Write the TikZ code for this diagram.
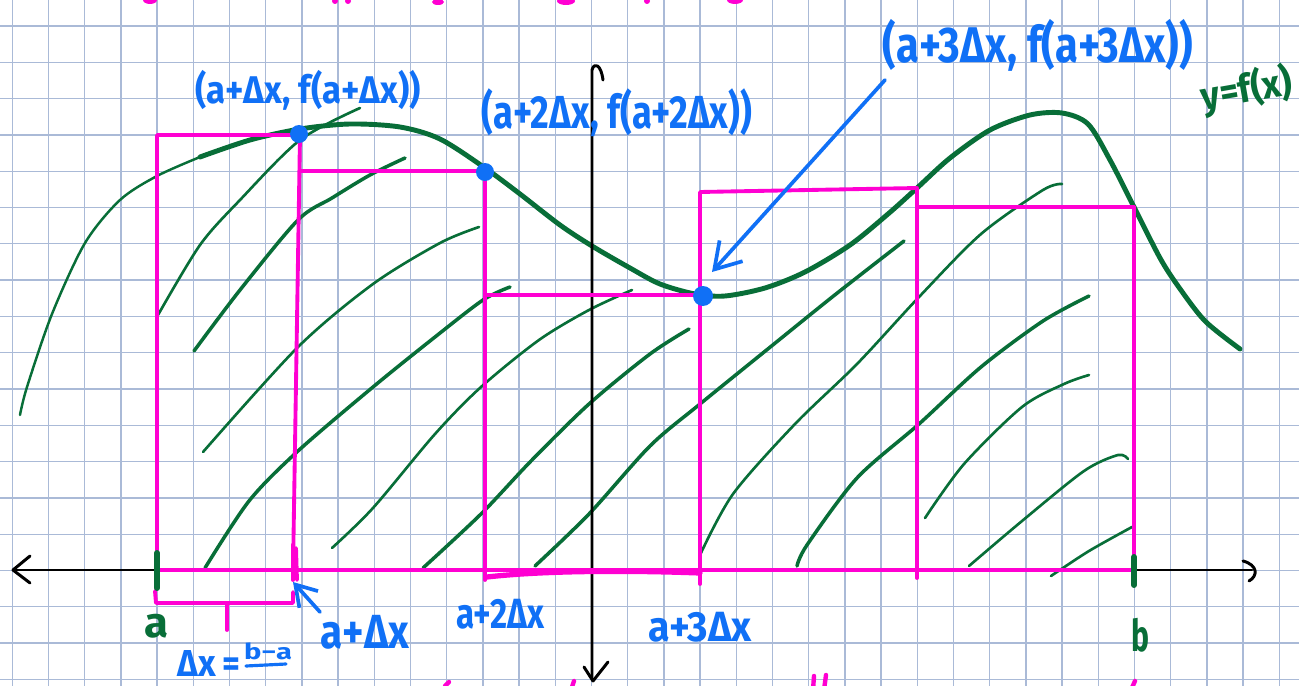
\documentclass[tikz,border=0pt]{standalone}
\usepackage{fontspec}
\setmainfont{Fira Sans}
\usetikzlibrary{arrows.meta}
\definecolor{gridc}{RGB}{170,186,215}
\definecolor{pinkc}{RGB}{255,0,210}
\definecolor{greenc}{RGB}{8,110,56}
\definecolor{bluec}{RGB}{16,112,246}
\newlength{\pxu}\setlength{\pxu}{0.02cm}
\newcommand{\hw}[3]{\resizebox*{#1\pxu}{#2\pxu}{\bfseries #3}}
\begin{document}
\begin{tikzpicture}[x=0.02cm,y=-0.02cm,
  gridline/.style={gridc,line width=0.7pt},
  pinkline/.style={pinkc,line width=2.2pt,line join=round,line cap=round},
  hatch/.style={greenc,line width=1.5pt,line cap=round},
  hatchb/.style={greenc,line width=2.0pt,line cap=round},
  curvethin/.style={greenc,line width=1.4pt,line cap=round},
  curvethick/.style={greenc,line width=2.8pt,line cap=round,line join=round},
  axisline/.style={black,line width=1.7pt,line cap=round,line join=round},
  dot/.style={circle,fill=bluec,inner sep=0pt,minimum size=18\pxu},
  bluelbl/.style={text=bluec,inner sep=0pt},
  greenlbl/.style={text=greenc,inner sep=0pt},
  bluearrow/.style={bluec,line width=2.1pt,line cap=round,-{Straight Barb[length=0.5cm,width=0.62cm,line width=2.1pt]}},
  pinkfrag/.style={pinkc,line width=2.5pt,line cap=round}]
\useasboundingbox (0,0) rectangle (1299,686);
\clip (0,0) rectangle (1299,686);
\fill[white] (0,0) rectangle (1299,686);
% grid
\foreach \k in {0,...,35} \draw[gridline] ({12.3+36.2*\k},0) -- ({12.3+36.2*\k},686);
\foreach \k in {0,...,18} \draw[gridline] (0,{26+36.3*\k}) -- (1299,{26+36.3*\k});
% green hatching
\draw[hatch] plot[smooth] coordinates {(158,315) (200,245) (240,200) (300,140) (360,108)};
\draw[hatchb] plot[smooth] coordinates {(194,351) (240,290) (298,220) (332,198) (370,175) (405,158)};
\draw[hatch] plot[smooth] coordinates {(203,452) (298,347) (373,284) (440,243) (479,227)};
\draw[hatchb] plot[smooth] coordinates {(205,568) (249,501) (298,451) (373,387) (435,337) (483,300) (510,287)};
\draw[hatch] plot[smooth] coordinates {(332,548) (373,508) (435,434) (481,387) (539,340) (589,310) (632,290)};
\draw[hatchb] plot[smooth] coordinates {(423,568) (481,514) (531,461) (589,404) (650,354) (689,329)};
\draw[hatchb] plot[smooth] coordinates {(535,566) (589,514) (650,446) (700,404) (774,344) (836,294) (904,241)};
\draw[hatch] plot[smooth] coordinates {(700,555) (733,494) (795,424) (857,364) (919,297) (981,234) (1043,190) (1062,184)};
\draw[hatchb] plot[smooth] coordinates {(797,566) (807,545) (857,478) (919,424) (981,367) (1043,321) (1089,296)};
\draw[hatch] plot[smooth] coordinates {(925,518) (964,464) (1022,407) (1064,384) (1089,375)};
\draw[hatch] plot[smooth] coordinates {(969,566) (1022,521) (1084,471) (1118,455) (1128,459)};
\draw[hatch] plot[smooth] coordinates {(1051,576) (1089,551) (1132,527)};
% function curve
\draw[curvethin] plot[smooth] coordinates {(20,415) (27,387) (52,314) (85,243) (120,200) (157,176) (200,157)};
\draw[curvethick] plot[smooth] coordinates {(200,157) (250,140) (300,129) (350,124) (400,127) (440,139) (485,168) (520,194) (560,225) (592,246) (630,268) (660,284) (695,294) (725,296) (765,288) (805,272) (850,245) (888,214) (917,188) (950,158) (990,130) (1030,115) (1062,113) (1088,124) (1110,160) (1134,207) (1160,258) (1178,286) (1205,321) (1240,349)};
% axes
\draw[axisline] (14,570) -- (1252,570);
\draw[axisline] (30,556) -- (13,570) -- (30,583);
\draw[axisline] (1243,561) .. controls (1258,565) and (1258,576) .. (1249,581);
\draw[axisline] (592,678) -- (592,70) .. controls (594,62) and (601,64) .. (603,80);
\draw[axisline] (584,667) -- (593,681) -- (608,662);
% pink rectangles
\draw[pinkline] (157,570) -- (157,135) -- (300,135) -- (293,570);
\draw[pinkline] (300,171) -- (485,171) -- (485,570);
\draw[pinkline] (485,295) -- (700,295);
\draw[pinkline] (700,570) -- (700,192) -- (917,188) -- (917,245);
\draw[pinkline] (917,572) -- (917,207) -- (1134,207) -- (1134,570);
\draw[pinkline] (157,570) -- (1134,570);
\draw[pinkc,line width=3pt,line cap=round] (487,577) .. controls (540,571) and (620,570) .. (700,573);
\draw[pinkline] (293,545) -- (293,580);
\draw[pinkline] (296,548) -- (297,580);
\draw[pinkline] (485,560) -- (485,580);
\draw[pinkline] (700,562) -- (700,584);
\draw[pinkline] (917,562) -- (917,578);
% brace under first subinterval
\draw[pinkline] (155,591) -- (156,603) -- (293,603) -- (293,592);
\draw[pinkline] (227,603) -- (227,630);
% green ticks
\draw[greenc,line width=3.4pt,line cap=round] (157,553) -- (157,588);
\draw[greenc,line width=3.4pt,line cap=round] (1134,557) -- (1134,585);
% sample points
\node[dot] (p1) at (299,134) {};
\node[dot] (p2) at (485,172) {};
\node[dot,minimum size=20\pxu] (p3) at (703,296) {};
% labels
\node[bluelbl] (l1) at (308,90) {\hw{225}{40}{(a+Δx, f(a+Δx))}};
\node[bluelbl] (l2) at (617,113) {\hw{270}{48}{(a+2Δx, f(a+2Δx))}};
\node[bluelbl] (l3) at (1038,45) {\hw{310}{52}{(a+3Δx, f(a+3Δx))}};
\node[greenlbl,rotate=10] (lf) at (1247,90) {\hw{92}{42}{y=f(x)}};
\node[bluelbl] (la1) at (365,632) {\hw{88}{34}{a+Δx}};
\node[bluelbl] (la2) at (500,614) {\hw{88}{30}{a+2Δx}};
\node[bluelbl] (la3) at (700,627) {\hw{104}{30}{a+3Δx}};
\node[greenlbl] (la) at (157,626) {\hw{24}{24}{a}};
\node[greenlbl] (lb) at (1140,635) {\hw{18}{34}{b}};
\node[bluelbl] (ldx) at (209,663) {\hw{62}{26}{Δx\,=}};
\node[bluelbl] (lba) at (268,651) {\hw{48}{17}{b−a}};
\coordinate (ubA) at (246,666);
\coordinate (ubB) at (286,664);
\draw[bluec,line width=1.8pt,line cap=round] (ubA) -- (ubB);
% arrows
\coordinate (s3) at (885,80);
\coordinate (t3) at (712,272);
\draw[bluearrow] (s3) -- (t3);
\coordinate (s1) at (320,612);
\coordinate (t1) at (293,582);
\draw[bluearrow,-{Straight Barb[length=0.4cm,width=0.5cm,line width=2.1pt]}] (s1) -- (t1);
% cut-off pink writing at the edges
\fill[pinkc] (150,0) ellipse (7 and 4);
\fill[pinkc] (335,1) ellipse (3 and 3);
\fill[pinkc] (348,1) ellipse (3 and 3);
\fill[pinkc] (438,2) ellipse (6 and 3);
\fill[pinkc] (566,1) ellipse (9 and 4);
\fill[pinkc] (647,1) ellipse (3 and 3);
\fill[pinkc] (735,0) ellipse (8 and 4);
\draw[pinkfrag] (445,686) -- (449,682);
\draw[pinkfrag] (571,690) -- (574,681);
\draw[pinkfrag] (813,690) -- (814,676);
\draw[pinkfrag] (824,690) -- (826,675);
\draw[pinkfrag] (1131,690) -- (1135,681);
\end{tikzpicture}
\end{document}
